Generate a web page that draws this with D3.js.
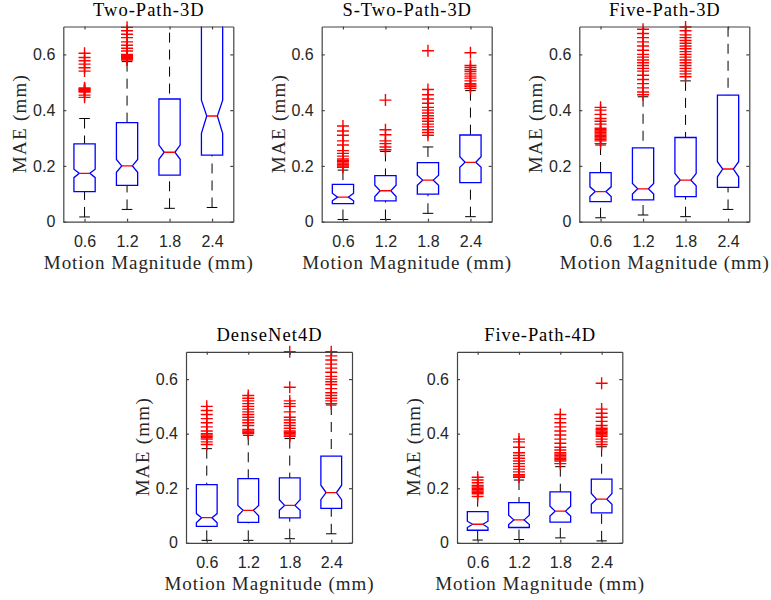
<!DOCTYPE html>
<html>

<head>
    <meta charset="utf-8">
    <title>MAE vs motion magnitude, notched boxplots</title>
    <script src="https://d3js.org/d3.v7.min.js"></script>
    <style>
        body {
            margin: 0;
            background: #fff;
        }

        .tick text {
            font-family: "Liberation Sans", Arial, sans-serif;
            font-size: 16px;
            fill: #262626;
        }

        .tick line,
        .domain {
            stroke: #444;
            stroke-width: 1.2px;
        }
    </style>
</head>

<body>
    <svg width="771" height="600"></svg>
    <script>
        // x categories and y ticks shared by every subplot
        var categories = ["0.6", "1.2", "1.8", "2.4"];
        var yTicks = [0, 0.2, 0.4, 0.6];
        var yMax = 0.7;

        var titles = ["Two-Path-3D", "S-Two-Path-3D", "Five-Path-3D", "DenseNet4D", "Five-Path-4D"];

        // box stats per category: [lowWhisker, q1, notchLow, median, notchHigh, q3, highWhisker]
        var twoPath3D = [
            [0.017, 0.108, 0.158, 0.1735, 0.188, 0.279, 0.370],
            [0.044, 0.130, 0.177, 0.200, 0.223, 0.355, 0.574],
            [0.048, 0.167, 0.224, 0.249, 0.275, 0.440, 0.80],
            [0.051, 0.239, 0.317, 0.379, 0.436, 0.72, 1.05]
        ];
        var twoPath3DOut = [
            [0.604, 0.589, 0.577, 0.565, 0.552, 0.540, 0.480, 0.477, 0.474, 0.471, 0.468, 0.465, 0.454, 0.446],
            [0.697, 0.685, 0.672, 0.660, 0.645, 0.633, 0.622, 0.612, 0.600, 0.596, 0.592, 0.589, 0.586, 0.583, 0.580],
            [],
            []
        ];

        var sTwoPath3D = [
            [0.008, 0.065, 0.075, 0.088, 0.102, 0.134, 0.185],
            [0.008, 0.075, 0.090, 0.111, 0.131, 0.165, 0.252],
            [0.030, 0.099, 0.131, 0.149, 0.167, 0.212, 0.268],
            [0.018, 0.140, 0.195, 0.213, 0.233, 0.311, 0.470]
        ];
        var sTwoPath3DOut = [
            [0.343, 0.325, 0.310, 0.290, 0.275, 0.255, 0.245, 0.235, 0.225, 0.220, 0.215, 0.210, 0.205, 0.200, 0.195],
            [0.436, 0.330, 0.312, 0.290, 0.280, 0.268, 0.258],
            [0.613, 0.474, 0.455, 0.440, 0.425, 0.410, 0.400, 0.390, 0.380, 0.370, 0.360, 0.350, 0.340, 0.330, 0.320, 0.310],
            [0.606, 0.560, 0.553, 0.545, 0.538, 0.530, 0.522, 0.515, 0.505, 0.495, 0.490, 0.485, 0.478]
        ];

        var fivePath3D = [
            [0.014, 0.072, 0.090, 0.108, 0.125, 0.176, 0.275],
            [0.024, 0.078, 0.099, 0.118, 0.137, 0.265, 0.448],
            [0.018, 0.090, 0.129, 0.149, 0.173, 0.302, 0.505],
            [0.044, 0.123, 0.161, 0.189, 0.215, 0.454, 0.76]
        ];
        var fivePath3DOut = [
            [0.410, 0.400, 0.385, 0.370, 0.360, 0.350, 0.335, 0.330, 0.325, 0.320, 0.315, 0.310, 0.305, 0.300, 0.295, 0.290, 0.280],
            [0.690, 0.675, 0.660, 0.645, 0.630, 0.615, 0.600, 0.590, 0.580, 0.570, 0.560, 0.550, 0.540, 0.525, 0.510, 0.495, 0.480, 0.465, 0.455],
            [0.698, 0.685, 0.670, 0.660, 0.650, 0.640, 0.630, 0.620, 0.610, 0.600, 0.590, 0.580, 0.570, 0.560, 0.550, 0.540, 0.530, 0.520],
            []
        ];

        var denseNet4D = [
            [0.009, 0.060, 0.073, 0.092, 0.107, 0.213, 0.345],
            [0.009, 0.075, 0.099, 0.119, 0.137, 0.235, 0.394],
            [0.015, 0.091, 0.119, 0.137, 0.158, 0.238, 0.382],
            [0.033, 0.126, 0.158, 0.184, 0.211, 0.318, 0.505]
        ];
        var denseNet4DOut = [
            [0.500, 0.485, 0.470, 0.455, 0.440, 0.425, 0.410, 0.400, 0.395, 0.390, 0.385, 0.380, 0.370, 0.360],
            [0.540, 0.530, 0.520, 0.510, 0.500, 0.490, 0.480, 0.470, 0.460, 0.450, 0.440, 0.430, 0.415, 0.410, 0.405, 0.400],
            [0.700, 0.570, 0.520, 0.510, 0.500, 0.480, 0.460, 0.450, 0.440, 0.430, 0.420, 0.410, 0.405, 0.400, 0.395, 0.390],
            [0.700, 0.685, 0.670, 0.655, 0.640, 0.625, 0.610, 0.600, 0.590, 0.580, 0.565, 0.550, 0.540, 0.530, 0.520, 0.510]
        ];

        var fivePath4D = [
            [0.010, 0.046, 0.056, 0.068, 0.079, 0.114, 0.169],
            [0.012, 0.056, 0.067, 0.084, 0.101, 0.147, 0.230],
            [0.018, 0.076, 0.098, 0.116, 0.134, 0.187, 0.279],
            [0.007, 0.110, 0.141, 0.160, 0.181, 0.233, 0.352]
        ];
        var fivePath4DOut = [
            [0.240, 0.230, 0.220, 0.210, 0.205, 0.200, 0.195, 0.190, 0.185, 0.180, 0.170],
            [0.380, 0.370, 0.350, 0.330, 0.320, 0.310, 0.300, 0.290, 0.280, 0.270, 0.260, 0.250, 0.245, 0.240],
            [0.470, 0.455, 0.440, 0.425, 0.410, 0.395, 0.380, 0.365, 0.350, 0.340, 0.330, 0.325, 0.320, 0.315, 0.310, 0.305, 0.300, 0.290],
            [0.585, 0.490, 0.475, 0.460, 0.445, 0.430, 0.420, 0.415, 0.410, 0.405, 0.400, 0.395, 0.390, 0.380, 0.370, 0.360]
        ];

        // axes boxes in pixels (MATLAB subplot positions)
        var boxes = [
            { x0: 63.3, x1: 233.3, y0: 26.5, y1: 221.7 },
            { x0: 321.7, x1: 491.7, y0: 26.5, y1: 221.7 },
            { x0: 579.3, x1: 749.3, y0: 26.5, y1: 221.7 },
            { x0: 186, x1: 352, y0: 351.8, y1: 542.8 },
            { x0: 457, x1: 622.3, y0: 351.8, y1: 542.8 }
        ];

        var panels = [
            { stats: twoPath3D, out: twoPath3DOut },
            { stats: sTwoPath3D, out: sTwoPath3DOut },
            { stats: fivePath3D, out: fivePath3DOut },
            { stats: denseNet4D, out: denseNet4DOut },
            { stats: fivePath4D, out: fivePath4DOut }
        ].map((p, i) => Object.assign(p, boxes[i], { title: titles[i] }));

        var svg = d3.select("svg");
        var serif = "'Liberation Serif', 'Times New Roman', Times, serif";

        // LaTeX (Computer Modern) text is a little wider than Times: stretch spacing
        function latexText (sel, size, fill) {
            sel.attr("font-family", serif)
                .attr("font-size", size)
                .attr("font-weight", "normal")
                .attr("fill", fill)
                .attr("text-anchor", "middle");
            sel.each(function () {
                var len = this.getComputedTextLength();
                d3.select(this).attr("textLength", len * 1.1).attr("lengthAdjust", "spacing");
            });
            return sel;
        }

        panels.forEach((p, pi) => {
            var x = d3.scalePoint().domain(categories).range([p.x0, p.x1]).padding(0.5);
            var y = d3.scaleLinear().domain([0, yMax]).range([p.y1, p.y0]);
            var step = x.step(),
                w = step * 0.5;

            var g = svg.append("g");

            // clip so boxes / whiskers stop at the axes edge
            g.append("clipPath").attr("id", "clip" + pi)
                .append("rect")
                .attr("x", p.x0).attr("y", p.y0)
                .attr("width", p.x1 - p.x0).attr("height", p.y1 - p.y0);

            var plot = g.append("g").attr("clip-path", "url(#clip" + pi + ")");

            var boxG = plot.selectAll(".bx")
                .data(p.stats)
                .enter().append("g")
                .attr("class", "bx");

            // whiskers, dashed, drawn from the end back to the box
            boxG.append("line")
                .attr("x1", (d, i) => x(categories[i])).attr("x2", (d, i) => x(categories[i]))
                .attr("y1", d => y(d[6])).attr("y2", d => y(d[5]))
                .attr("stroke", "#000").attr("stroke-width", 1).attr("stroke-dasharray", "10,7");
            boxG.append("line")
                .attr("x1", (d, i) => x(categories[i])).attr("x2", (d, i) => x(categories[i]))
                .attr("y1", d => y(d[0])).attr("y2", d => y(d[1]))
                .attr("stroke", "#000").attr("stroke-width", 1).attr("stroke-dasharray", "10,7");

            // whisker caps
            [0, 6].forEach(k => {
                boxG.append("line")
                    .attr("x1", (d, i) => x(categories[i]) - w / 4)
                    .attr("x2", (d, i) => x(categories[i]) + w / 4)
                    .attr("y1", d => y(d[k])).attr("y2", d => y(d[k]))
                    .attr("stroke", "#000").attr("stroke-width", 1);
            });

            // notched box
            var line = d3.line();
            boxG.append("path")
                .attr("d", (d, i) => {
                    var c = x(categories[i]), L = c - w / 2, R = c + w / 2;
                    return line([
                        [L, y(d[5])], [R, y(d[5])], [R, y(d[4])], [c + w / 4, y(d[3])],
                        [R, y(d[2])], [R, y(d[1])], [L, y(d[1])], [L, y(d[2])],
                        [c - w / 4, y(d[3])], [L, y(d[4])]
                    ]) + "Z";
                })
                .attr("fill", "none")
                .attr("stroke", "#0000ff")
                .attr("stroke-width", 1.3);

            // median
            boxG.append("line")
                .attr("x1", (d, i) => x(categories[i]) - w / 4)
                .attr("x2", (d, i) => x(categories[i]) + w / 4)
                .attr("y1", d => y(d[3])).attr("y2", d => y(d[3]))
                .attr("stroke", "#ff0000").attr("stroke-width", 1.3);

            // outliers as red '+', only those whose centre is inside the axes
            var pts = [];
            p.out.forEach((arr, i) => arr.forEach(v => { if (v <= yMax) pts.push({ c: categories[i], v: v }); }));
            g.append("g").selectAll("path")
                .data(pts)
                .enter().append("path")
                .attr("d", d => {
                    var cx = x(d.c), cy = y(d.v), s = 6;
                    return "M" + (cx - s) + "," + cy + "H" + (cx + s) + "M" + cx + "," + (cy - s) + "V" + (cy + s);
                })
                .attr("stroke", "#ff0000")
                .attr("stroke-width", 1.4)
                .attr("fill", "none");

            // axes: ticks pointing inwards on all four sides
            g.append("g")
                .attr("transform", "translate(0," + p.y1 + ")")
                .call(d3.axisBottom(x).tickSizeInner(-3).tickSizeOuter(0).tickPadding(13.5));
            g.append("g")
                .attr("transform", "translate(0," + p.y0 + ")")
                .call(d3.axisTop(x).tickSizeInner(-3).tickSizeOuter(0).tickFormat(""));
            g.append("g")
                .attr("transform", "translate(" + p.x0 + ",0)")
                .call(d3.axisLeft(y).tickValues(yTicks).tickSizeInner(-3).tickSizeOuter(0).tickPadding(8)
                    .tickFormat(d => d === 0 ? "0" : d3.format(".1f")(d)));
            g.append("g")
                .attr("transform", "translate(" + p.x1 + ",0)")
                .call(d3.axisRight(y).tickValues(yTicks).tickSizeInner(-3).tickSizeOuter(0).tickFormat(""));

            var cx = (p.x0 + p.x1) / 2,
                cy = (p.y0 + p.y1) / 2;

            g.append("text")
                .attr("x", cx).attr("y", p.y0 - 10.5)
                .text(p.title)
                .call(latexText, 18.5, "#000");

            g.append("text")
                .attr("x", cx).attr("y", p.y1 + 47)
                .text("Motion Magnitude (mm)")
                .call(latexText, 19, "#262626");

            g.append("text")
                .attr("transform", "translate(" + (p.x0 - 37) + "," + cy + ") rotate(-90)")
                .text("MAE (mm)")
                .call(latexText, 19, "#262626");
        });
    </script>
</body>

</html>
